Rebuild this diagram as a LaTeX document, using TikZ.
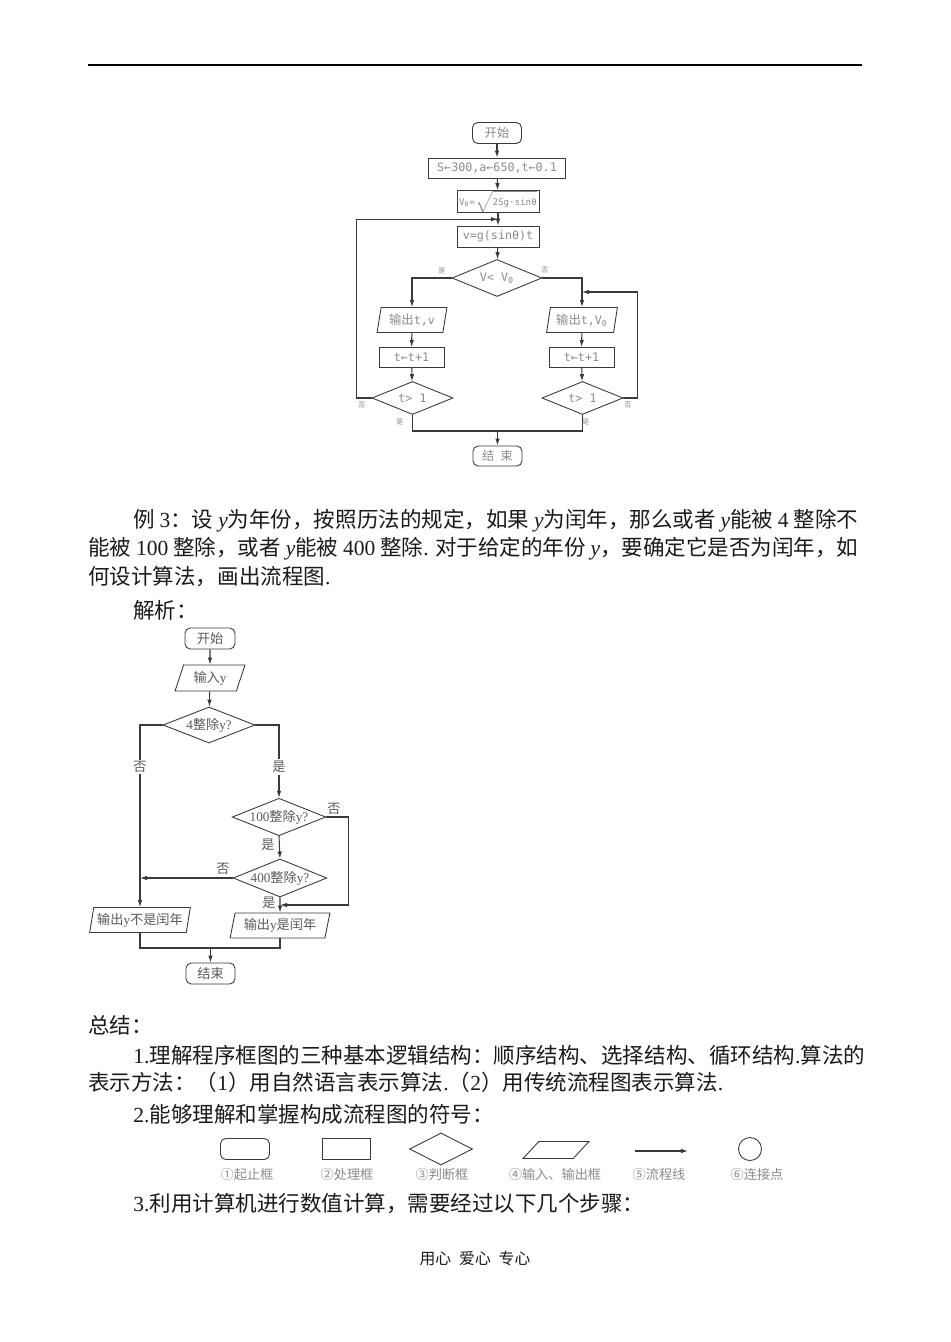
\documentclass[tikz,border=0pt]{standalone}
\usepackage{fontspec}
\setmainfont{Noto Sans CJK SC}
\newfontfamily\lat{Liberation Serif}
\newfontfamily\mono[Scale=0.95]{DejaVu Sans Mono}
\usepackage{tikz}
\usetikzlibrary{shapes.geometric,arrows.meta,calc}
\definecolor{INK}{HTML}{1A1A1A}
\definecolor{LINE}{HTML}{3A3A3A}
\definecolor{PALE}{HTML}{8C8C8C}
\definecolor{MID}{HTML}{5A5A5A}

\newcommand\en[1]{{\lat #1}}
\newcommand\ey{{\lat\itshape y}}
\newcommand\bodyfont{\fontsize{12.25}{14}\selectfont}

\begin{document}
\begin{tikzpicture}[
    x=0.02cm, y=-0.02cm,
    term/.style={draw=LINE, rounded corners=3pt, line width=0.5pt, inner sep=0pt},
    proc/.style={draw=LINE, line width=0.5pt, inner sep=0pt},
    dec/.style={diamond, aspect=2.5, draw=LINE, line width=0.5pt, inner sep=0pt},
    io/.style={trapezium, trapezium left angle=72, trapezium right angle=108,
      trapezium stretches=true, draw=LINE, line width=0.5pt, inner sep=0pt},
    flow/.style={draw=LINE, line width=0.6pt, -{Latex[length=4pt,width=2.6pt]}},
    link/.style={draw=LINE, line width=0.6pt},
    txa/.style={font=\fontsize{7}{8}\selectfont, text=PALE},
    txb/.style={font=\fontsize{7.5}{9}\selectfont, text=MID},
    mini/.style={font=\fontsize{4}{5}\selectfont, text=PALE, inner sep=0pt},
    lab/.style={font=\fontsize{7.5}{9}\selectfont, text=MID, inner sep=1pt},
    para/.style={font=\bodyfont, text=INK, anchor=west, inner sep=0pt},
  ]

  \useasboundingbox[fill=white] (0,0) rectangle (950,1342);

  % header rule
  \draw[line width=0.9pt] (88,65) -- (862,65);

  % --- first flowchart ---
  \node[term, txa, minimum width=0.98cm, minimum height=0.42cm] (s1) at (497,133) {开始};
  \node[proc, txa, minimum width=2.74cm, minimum height=0.40cm] (a1) at (497,168)
    {\mono S←300,a←650,t←0.1};
  \node[proc, txa, font=\fontsize{5.5}{7}\selectfont, minimum width=1.64cm, minimum height=0.42cm] (a2) at (498,201.5)
    {\mono V\textsubscript{0}=$\sqrt{\mbox{\mono 2Sg·sinθ}}$};
  \node[proc, txa, minimum width=1.64cm, minimum height=0.42cm] (a3) at (498,236.5)
    {\mono v=g(sinθ)t};
  \node[dec, txa, minimum width=1.80cm, minimum height=0.74cm] (d1) at (497,278)
    {\mono V< V\textsubscript{0}};

  \node[io, txa, trapezium left angle=76, trapezium right angle=104,
    minimum width=1.40cm, minimum height=0.50cm] (o1) at (412,320) {输出\mono t,v};
  \node[io, txa, trapezium left angle=76, trapezium right angle=104,
    minimum width=1.42cm, minimum height=0.50cm] (o2) at (582,320) {输出\mono t,V\textsubscript{0}};
  \node[proc, txa, minimum width=1.30cm, minimum height=0.40cm] (p1) at (411.5,357.5) {\mono t←t+1};
  \node[proc, txa, minimum width=1.30cm, minimum height=0.40cm] (p2) at (581.5,357.5) {\mono t←t+1};
  \node[dec, txa, minimum width=1.62cm, minimum height=0.66cm] (d2) at (412.5,398) {\mono t> 1};
  \node[dec, txa, minimum width=1.62cm, minimum height=0.66cm] (d3) at (582.5,398) {\mono t> 1};
  \node[term, txa, minimum width=0.98cm, minimum height=0.40cm] (e1) at (497.5,456) {结\enspace 束};

  \coordinate (j1) at ($(a2.south)!0.5!(a3.north)$);
  \coordinate (j2) at (582,292);
  \coordinate (m1) at (497.5,431);

  \draw[flow] (s1) -- (a1);
  \draw[flow] (a1) -- (a2);
  \draw[flow] (a2) -- (a3);
  \draw[flow] (a3) -- (d1);
  \draw[flow] (d1.west) -| (o1.north);
  \draw[flow] (d1.east) -| (o2.north);
  \draw[flow] (o1) -- (p1);
  \draw[flow] (p1) -- (d2);
  \draw[flow] (o2) -- (p2);
  \draw[flow] (p2) -- (d3);
  \draw[flow] (d2.west) -- ++(-15,0) |- (j1);
  \draw[flow] (d3.east) -- ++(14,0) |- (j2);
  \draw[link] (d2.south) |- (m1) -| (d3.south);
  \draw[flow] (m1) -- (e1);

  \node[mini] (y1) at (442,271) {是};
  \node[mini] (n1) at (545,270) {否};
  \node[mini] (n2) at (362,405) {否};
  \node[mini] (y2) at (400,422) {是};
  \node[mini] (y3) at (586,422) {是};
  \node[mini] (n3) at (628,405) {否};

  % --- example text ---
  \node[para] (t1) at (133,521)
    {例 \en{3}：设 \ey{}为年份，按照历法的规定，如果 \ey{}为闰年，那么或者 \ey{}能被 \en{4} 整除不};
  \node[para] (t2) at (88,549)
    {能被 \en{100} 整除，或者 \ey{}能被 \en{400} 整除\en{.} 对于给定的年份 \ey{}，要确定它是否为闰年，如};
  \node[para] (t3) at (88,577) {何设计算法，画出流程图\en{.}};
  \node[para] (t4) at (133,610) {解析：};

  % --- second flowchart ---
  \node[term, txb, minimum width=1.00cm, minimum height=0.42cm] (s2) at (210,638.5) {开始};
  \node[io, txb, trapezium left angle=69, trapezium right angle=111,
    minimum width=1.40cm, minimum height=0.52cm] (i2) at (210,678) {输入\en{y}};
  \node[dec, txb, minimum width=1.84cm, minimum height=0.72cm] (q1) at (209,725) {\en{4}整除\en{y?}};
  \node[dec, txb, minimum width=1.84cm, minimum height=0.72cm] (q2) at (279,817) {\en{100}整除\en{y?}};
  \node[dec, txb, minimum width=1.84cm, minimum height=0.76cm] (q3) at (280,878) {\en{400}整除\en{y?}};
  \node[io, txb, trapezium left angle=75, trapezium right angle=105,
    minimum width=2.02cm, minimum height=0.50cm] (r1) at (140,920) {输出\en{y}不是闰年};
  \node[io, txb, trapezium left angle=74, trapezium right angle=106,
    minimum width=2.00cm, minimum height=0.50cm] (r2) at (280,925.5) {输出\en{y}是闰年};
  \node[term, txb, minimum width=0.98cm, minimum height=0.42cm] (e2) at (210.5,973.5) {结束};

  \coordinate (k1) at (r1.north |- q3.west);
  \coordinate (k2) at ($(q3.south)!0.5!(r2.north)$);
  \coordinate (k3) at (210.5,948);

  \draw[flow] (s2) -- (i2);
  \draw[flow] (i2) -- (q1);
  \draw[flow] (q1.west) -| (r1.north);
  \draw[flow] (q1.east) -| (q2.north);
  \draw[flow] (q2.south) -- (q3.north);
  \draw[flow] (q3.west) -- (k1);
  \draw[flow] (q3.south) -- (r2.north);
  \draw[flow] (q2.east) -- ++(22,0) |- (k2);
  \draw[link] (r1.south) |- (k3) -| (r2.south);
  \draw[flow] (k3) -- (e2);

  \node[lab, fill=white] (n4) at (140,767) {否};
  \node[lab, fill=white] (y4) at (279,767) {是};
  \node[lab] (n5) at (334,809) {否};
  \node[lab] (y5) at (268,845) {是};
  \node[lab] (n6) at (223,869) {否};
  \node[lab] (y6) at (269,903) {是};

  % --- summary ---
  \node[para] (t5) at (88,1025) {总结：};
  \node[para] (t6) at (133,1055)
    {\en{1.}理解程序框图的三种基本逻辑结构：顺序结构、选择结构、循环结构\en{.}算法的};
  \node[para] (t7) at (88,1082)
    {表示方法：（\en{1}）用自然语言表示算法\en{.}（\en{2}）用传统流程图表示算法\en{.}};
  \node[para] (t8) at (133,1114) {\en{2.}能够理解和掌握构成流程图的符号：};

  % symbol legend
  \node[term, minimum width=0.98cm, minimum height=0.42cm] (g1) at (245,1149) {};
  \node[proc, minimum width=0.96cm, minimum height=0.42cm] (g2) at (346,1149) {};
  \node[dec, minimum width=1.26cm, minimum height=0.64cm] (g3) at (441,1149) {};
  \node[io, trapezium left angle=63, trapezium right angle=117,
    minimum width=1.32cm, minimum height=0.34cm] (g4) at (556,1150) {\phantom{M}};
  \coordinate (ga) at (635,1151);
  \coordinate (gb) at (688,1151);
  \draw[flow] (ga) -- (gb);
  \node[circle, draw=LINE, line width=0.5pt, minimum size=0.46cm, inner sep=0pt] (g6) at (750,1149) {};

  \node[lab, text=PALE] (h1) at (247,1174) {①起止框};
  \node[lab, text=PALE] (h2) at (347,1174) {②处理框};
  \node[lab, text=PALE] (h3) at (442,1174) {③判断框};
  \node[lab, text=PALE] (h4) at (555,1174) {④输入、输出框};
  \node[lab, text=PALE] (h5) at (659,1174) {⑤流程线};
  \node[lab, text=PALE] (h6) at (757,1174) {⑥连接点};

  \node[para] (t9) at (133,1204) {\en{3.}利用计算机进行数值计算，需要经过以下几个步骤：};

  % footer
  \node[font=\fontsize{9}{10}\selectfont, text=INK] (ft) at (475,1258) {用心\enspace 爱心\enspace 专心};

\end{tikzpicture}
\end{document}
